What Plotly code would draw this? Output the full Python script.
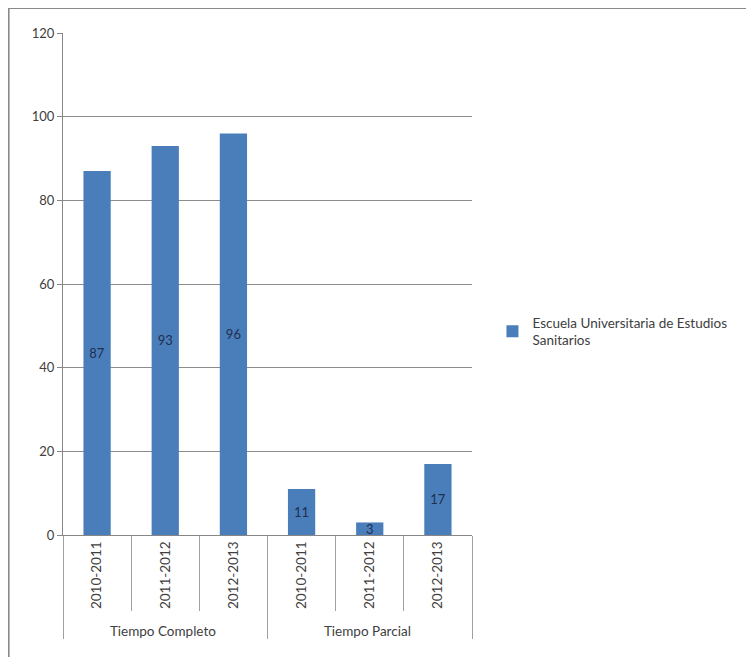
import plotly.graph_objects as go

groups = ["Tiempo Completo", "Tiempo Completo", "Tiempo Completo",
          "Tiempo Parcial", "Tiempo Parcial", "Tiempo Parcial"]
years = ["2010-2011", "2011-2012", "2012-2013", "2010-2011", "2011-2012", "2012-2013"]
values = [87, 93, 96, 11, 3, 17]
series_name = "Escuela Universitaria de Estudios<br>Sanitarios"
y_ticks = [0, 20, 40, 60, 80, 100, 120]

fig = go.Figure()
fig.add_trace(go.Bar(
    x=[groups, years], y=values, name=series_name,
    marker=dict(color="#4A7EBB", line=dict(width=0)),
    text=[str(v) for v in values], textposition="inside",
    insidetextanchor="middle", textangle=0, constraintext="none",
    textfont=dict(color="#1F2F4F", size=13, family="Lato"),
    cliponaxis=False, showlegend=True,
))

fig.update_layout(
    width=754, height=657,
    margin=dict(l=55, r=290, t=25, b=130),
    paper_bgcolor="white", plot_bgcolor="white",
    bargap=0.6,
    font=dict(family="Lato", size=12, color="#404040"),
    showlegend=True,
    legend=dict(x=1.05, y=0.405, xanchor="left", yanchor="middle",
                font=dict(size=13.5, color="#404040"), itemwidth=30,
                bgcolor="rgba(0,0,0,0)"),
    xaxis=dict(type="multicategory", tickangle=-90,
               showline=True, linecolor="#868686", linewidth=1,
               showdividers=True, dividercolor="#A0A0A0", dividerwidth=1,
               ticks="outside", tickson="boundaries", ticklen=75, tickcolor="#A0A0A0",
               tickfont=dict(size=13.5, color="#404040")),
    yaxis=dict(range=[0, 120], tickvals=y_ticks, showgrid=True,
               gridcolor="#8C8C8C", gridwidth=1,
               showline=True, linecolor="#868686", linewidth=1,
               ticks="outside", ticklen=5, tickcolor="#868686",
               zeroline=False, tickfont=dict(size=13, color="#404040")),
)

fig.add_shape(type="rect", xref="paper", yref="paper",
              x0=-0.133, y0=-0.3, x1=2.0, y1=1.05,
              line=dict(color="#8A8A8A", width=2), fillcolor="rgba(0,0,0,0)", layer="below")

fig.write_html("out.html")
